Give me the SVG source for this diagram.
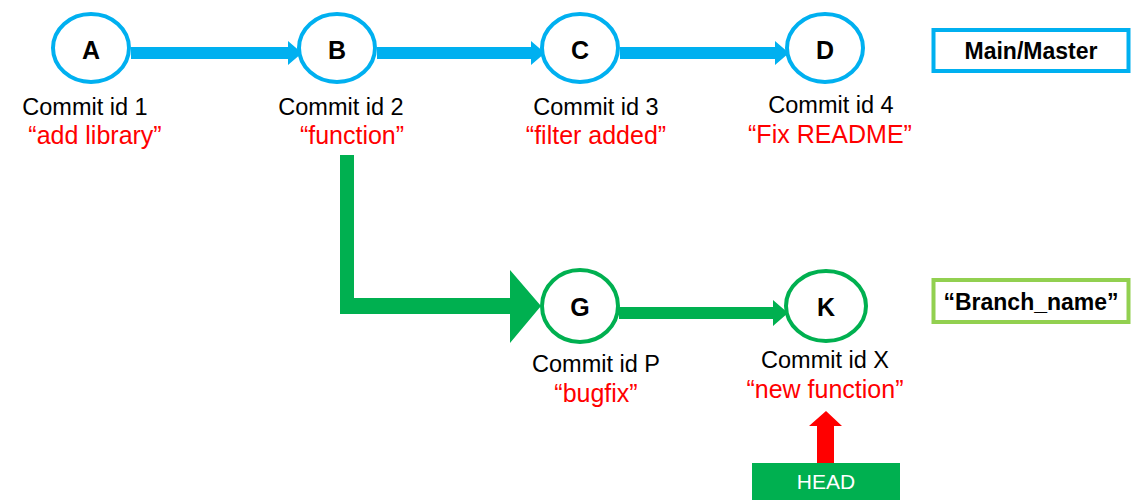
<svg xmlns="http://www.w3.org/2000/svg" width="1135" height="503" viewBox="0 0 1135 503">
<style>
.bn{fill:#fff;stroke:#00B0F0;stroke-width:4}
.gn{fill:#fff;stroke:#00B050;stroke-width:4}
.lt{font-family:"Liberation Sans",Arial,sans-serif;font-weight:bold;font-size:25px;text-anchor:middle;fill:#000}
.ci{font-family:"Liberation Sans",Arial,sans-serif;font-size:23.5px;text-anchor:middle;fill:#000}
.msg{font-family:"Liberation Sans",Arial,sans-serif;font-size:25px;text-anchor:middle;fill:#FF0000}
.lb{font-family:"Liberation Sans",Arial,sans-serif;font-weight:bold;font-size:23px;text-anchor:middle;fill:#000}
.ba{fill:#00B0F0}
.ga{fill:#00B050}
</style>
<rect width="1135" height="503" fill="#fff"/>
<g id="connectors">
  <polygon class="ba" points="131,47 288,47 288,41 302,53 288,65 288,59 131,59"/>
  <polygon class="ba" points="377,47 531,47 531,41 545,53 531,65 531,59 377,59"/>
  <polygon class="ba" points="620,47 775,47 775,41 789,53 775,65 775,59 620,59"/>
  <polygon class="ga" points="340,155 354,155 354,298 510,298 510,270 541,306 510,343 510,314 340,314"/>
  <polygon class="ga" points="619,307 773,307 773,300 788,313 773,326 773,319 619,319"/>
  <polygon fill="#FF0000" points="817,463 817,426 809,426 826,411 842,426 834,426 834,463"/>
</g>
<g id="node-A">
  <ellipse class="bn" cx="91" cy="48" rx="38" ry="34"/>
  <text class="lt" x="91" y="59">A</text>
  <text class="ci" x="85" y="115">Commit id 1</text>
  <text class="msg" x="95" y="144">“add library”</text>
</g>
<g id="node-B">
  <ellipse class="bn" cx="337" cy="48" rx="38" ry="34"/>
  <text class="lt" x="337" y="59">B</text>
  <text class="ci" x="341" y="115">Commit id 2</text>
  <text class="msg" x="352" y="144">“function”</text>
</g>
<g id="node-C">
  <ellipse class="bn" cx="580" cy="48" rx="38" ry="34"/>
  <text class="lt" x="580" y="59">C</text>
  <text class="ci" x="596" y="115">Commit id 3</text>
  <text class="msg" x="596" y="144">“filter added”</text>
</g>
<g id="node-D">
  <ellipse class="bn" cx="825" cy="48" rx="38" ry="34"/>
  <text class="lt" x="825" y="59">D</text>
  <text class="ci" x="831" y="113">Commit id 4</text>
  <text class="msg" x="830" y="143">“Fix README”</text>
</g>
<g id="node-G">
  <ellipse class="gn" cx="580" cy="306" rx="38" ry="36"/>
  <text class="lt" x="580" y="316">G</text>
  <text class="ci" x="596" y="372">Commit id P</text>
  <text class="msg" x="596" y="402">“bugfix”</text>
</g>
<g id="node-K">
  <ellipse class="gn" cx="826" cy="306" rx="40" ry="35"/>
  <text class="lt" x="826" y="316">K</text>
  <text class="ci" x="825" y="368">Commit id X</text>
  <text class="msg" x="825" y="398">“new function”</text>
</g>
<g id="label-main">
  <rect x="933.5" y="30" width="195" height="41" fill="#fff" stroke="#00B0F0" stroke-width="4"/>
  <text class="lb" x="1031" y="59" font-size="24.5">Main/Master</text>
</g>
<g id="label-branch">
  <rect x="933.5" y="280" width="195" height="42" fill="#fff" stroke="#92D050" stroke-width="4"/>
  <text class="lb" x="1031" y="310">“Branch_name”</text>
</g>
<g id="head">
  <rect x="752" y="463" width="148" height="37" fill="#00B050"/>
  <text x="826" y="489" font-family="Liberation Sans,Arial,sans-serif" font-size="21" text-anchor="middle" fill="#fff">HEAD</text>
</g>
</svg>
